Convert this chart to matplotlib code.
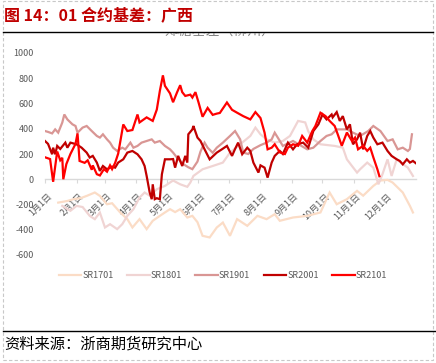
import matplotlib
matplotlib.use("Agg")
import matplotlib.pyplot as plt
from matplotlib.lines import Line2D
from matplotlib.patches import Rectangle
from matplotlib.transforms import Bbox, ScaledTranslation

plt.rcParams['font.family'] = ['Noto Sans CJK SC', 'DejaVu Sans']

# ---------------- data (day of year, basis value) ----------------
month_days = [0, 31, 59, 90, 120, 151, 181, 212, 243, 273, 304, 334]
month_labels = ['1月1日', '2月1日', '3月1日', '4月1日', '5月1日', '6月1日',
                '7月1日', '8月1日', '9月1日', '10月1日', '11月1日', '12月1日']
y_ticks = [-600, -400, -200, 0, 200, 400, 600, 800, 1000]

series_names = ['SR1701', 'SR1801', 'SR1901', 'SR2001', 'SR2101']
series_colors = ['#FBDCC6', '#F0D4D3', '#D99694', '#C00000', '#FF0000']

days_1701 = [13, 22, 28, 35, 41, 49, 54, 61, 66, 74, 81, 86, 93, 100, 106, 113, 118,
             123, 128, 133, 140, 145, 150, 155, 162, 169, 175, 182, 189, 199, 209,
             218, 226, 231, 244, 258, 271, 280, 287, 297, 307, 313, 323, 330, 337,
             342, 352, 359, 362]
sr1701 = [-185, -172, -158, -150, -132, -105, -132, -198, -190, -263, -316, -382,
          -316, -395, -329, -290, -263, -237, -260, -237, -303, -290, -340, -448,
          -461, -382, -343, -448, -316, -369, -290, -316, -277, -329, -303, -290,
          -263, -105, -198, -158, -92, -130, -53, -10, -5, -26, -105, -211, -263]

days_1801 = [17, 25, 31, 37, 44, 49, 54, 59, 64, 71, 76, 81, 87, 93, 98, 103, 110,
             118, 126, 133, 140, 143, 146, 155, 165, 175, 182, 192, 202, 207, 212,
             218, 226, 234, 241, 249, 256, 259, 264, 271, 285, 293, 297, 302, 307,
             310, 317, 323, 328, 332, 337, 341, 346, 352, 357, 362]
sr1801 = [-211, -250, -211, -220, -290, -316, -264, -382, -356, -395, -356, -290,
          -237, -145, -105, -130, -79, -53, -10, -40, -60, -26, 26, 79, 105, 132,
          211, 277, 343, 409, 356, 316, 290, 303, 343, 462, 450, 380, 316, 277,
          264, 250, 158, 105, 53, 79, 132, 92, -40, 40, 158, 26, 158, 120, 92, 26]

days_1901 = [0, 3, 7, 10, 13, 17, 19, 22, 27, 30, 32, 37, 41, 46, 51, 54, 57, 61,
             64, 67, 71, 76, 79, 84, 87, 91, 95, 100, 105, 108, 113, 118, 123, 126,
             130, 136, 141, 145, 150, 153, 157, 160, 165, 169, 175, 182, 187, 192,
             195, 200, 205, 212, 218, 223, 226, 229, 234, 244, 258, 264, 271, 277,
             282, 287, 297, 303, 310, 318, 323, 330, 337, 342, 347, 352, 357, 359,
             361]
sr1901 = [382, 375, 363, 395, 369, 449, 513, 474, 435, 422, 369, 409, 422, 382,
          343, 330, 356, 316, 290, 250, 224, 250, 237, 290, 250, 264, 290, 303,
          316, 290, 303, 264, 237, 211, 170, 120, 95, 80, 140, 220, 290, 250, 210,
          250, 290, 343, 382, 316, 211, 200, 240, 270, 290, 316, 369, 330, 264,
          303, 237, 250, 303, 343, 356, 395, 395, 369, 343, 382, 422, 382, 303,
          316, 237, 250, 224, 240, 356]

days_2001 = [0, 3, 7, 8, 10, 12, 15, 17, 20, 22, 25, 31, 36, 41, 44, 47, 51, 54,
             57, 61, 66, 69, 72, 77, 81, 86, 91, 95, 98, 100, 103, 105, 106, 108,
             110, 113, 115, 118, 123, 126, 128, 131, 135, 138, 140, 141, 145, 146,
             150, 153, 157, 162, 169, 174, 179, 184, 187, 190, 194, 199, 202, 205,
             210, 212, 216, 219, 223, 226, 231, 234, 239, 244, 248, 254, 259, 264,
             269, 273, 277, 282, 283, 287, 290, 293, 297, 300, 303, 307, 310, 313,
             317, 320, 323, 327, 332, 337, 341, 346, 349, 352, 356, 359, 362, 365]
sr2001 = [303, 280, 198, 250, 198, 264, 240, 260, 290, 250, 290, 277, 250, 211,
          172, 185, 132, 66, 105, 79, 100, 92, 132, 158, 211, 224, 198, 158, 105,
          26, -105, -158, -40, -158, -150, -158, 40, 158, 158, 160, 92, 185, 105,
          185, 132, 356, 395, 422, 330, 303, 237, 158, 211, 237, 264, 185, 240,
          290, 198, 250, 224, 132, 53, 110, 92, 13, 132, 185, 224, 200, 290, 237,
          277, 290, 250, 382, 435, 513, 474, 513, 490, 532, 462, 500, 395, 435,
          277, 316, 369, 237, 343, 382, 330, 277, 290, 224, 185, 158, 145, 118,
          158, 132, 145, 126]

days_2101 = [0, 5, 8, 12, 15, 17, 18, 21, 25, 30, 32, 34, 39, 42, 46, 47, 51, 54,
             58, 61, 64, 66, 69, 72, 77, 81, 86, 91, 93, 100, 106, 110, 113, 116,
             118, 123, 126, 130, 133, 135, 138, 143, 145, 148, 151, 155, 160, 165,
             169, 172, 179, 184, 189, 195, 202, 207, 212, 216, 219, 223, 226, 231,
             236, 239, 244, 249, 253, 258, 263, 266, 271, 276, 280, 285, 288, 292,
             297, 302, 305, 308, 313, 317, 320, 323, 327, 329]
sr2101 = [174, 160, -20, 220, 150, 170, 0, 120, 200, 280, 363, 145, 130, 150, 75,
          110, 40, 30, 80, 60, 110, 80, 130, 203, 434, 382, 390, 513, 450, 490,
          462, 552, 700, 823, 740, 680, 610, 690, 745, 690, 660, 670, 647, 690,
          610, 495, 565, 510, 520, 525, 608, 550, 527, 500, 474, 532, 485, 370,
          237, 250, 277, 213, 200, 250, 277, 265, 343, 290, 382, 422, 527, 500,
          462, 422, 356, 265, 370, 303, 330, 237, 265, 225, 250, 174, 79, 24]

all_days = [days_1701, days_1801, days_1901, days_2001, days_2101]
all_vals = [sr1701, sr1801, sr1901, sr2001, sr2101]

# ---------------- figure ----------------
W, H = 436, 363
fig = plt.figure(figsize=(W / 100, H / 100), dpi=100)

def fy(px):
    return 1 - px / H

ax = fig.add_axes([45 / W, fy(255), 371 / W, (255 - 53) / H])
for d, v, c, n in zip(all_days, all_vals, series_colors, series_names):
    ax.plot(d, v, color=c, lw=1.6, label=n, solid_joinstyle='miter')

ax.set_xlim(0, 365)
ax.set_ylim(-600, 1000)
ax.set_yticks(y_ticks)
ax.set_yticklabels([str(t) for t in y_ticks])
for s in ['top', 'right', 'left']:
    ax.spines[s].set_visible(False)
ax.spines['bottom'].set_position(('data', 0))
ax.spines['bottom'].set_color('#D9D9D9')
ax.spines['bottom'].set_linewidth(1.0)
ax.spines['bottom'].set_zorder(0.5)
ax.tick_params(axis='y', length=0, pad=8, labelsize=6.5, labelcolor='#595959')
ax.tick_params(axis='x', length=3, width=0.8, color='#D9D9D9', direction='out',
               pad=6, labelsize=6.5, labelcolor='#595959')
ax.set_xticks(month_days)
ax.set_xticklabels(month_labels, rotation=45, ha='right', rotation_mode='anchor')
off = ScaledTranslation(2 / 100, 0, fig.dpi_scale_trans)
for lab in ax.get_xticklabels():
    lab.set_transform(lab.get_transform() + off)

leg = fig.legend(loc='center', bbox_to_anchor=(223 / W, fy(276)), ncol=5,
                 frameon=False, fontsize=6.5, handlelength=2.5, handletextpad=0.1,
                 columnspacing=1.5, labelcolor='#595959')
for t in leg.get_texts():
    t.set_color('#595959')

# header
fig.text(4 / W, fy(15), '图 14：01 合约基差：广西', fontsize=11.5, fontweight='bold',
         color='#C00000', va='center', ha='left')
fig.add_artist(Line2D([3 / W, 433 / W], [fy(31.5), fy(31.5)], color='black', lw=1.0,
                      transform=fig.transFigure))
# partially hidden chart title
tt = fig.text(220 / W, fy(31), '郑糖基差（柳州）', fontsize=10, color='#808080',
              ha='center', va='center')
tt.set_clip_on(True)
tt.set_clip_box(Bbox.from_extents(0, 0, W, H - 32.5))

# source
fig.add_artist(Line2D([3 / W, 435 / W], [fy(331), fy(331)], color='black', lw=1.0,
                      transform=fig.transFigure))
fig.text(4 / W, fy(344), '资料来源：浙商期货研究中心', fontsize=11, color='black',
         va='center', ha='left')

# dashed outer frame
fig.add_artist(Rectangle((2.5 / W, fy(359.5)), 430.5 / W, 358.5 / H, fill=False,
                         edgecolor='#C8C8C8', lw=0.8, ls=(0, (3, 2)),
                         transform=fig.transFigure))

fig.savefig('out.png', dpi=100)
